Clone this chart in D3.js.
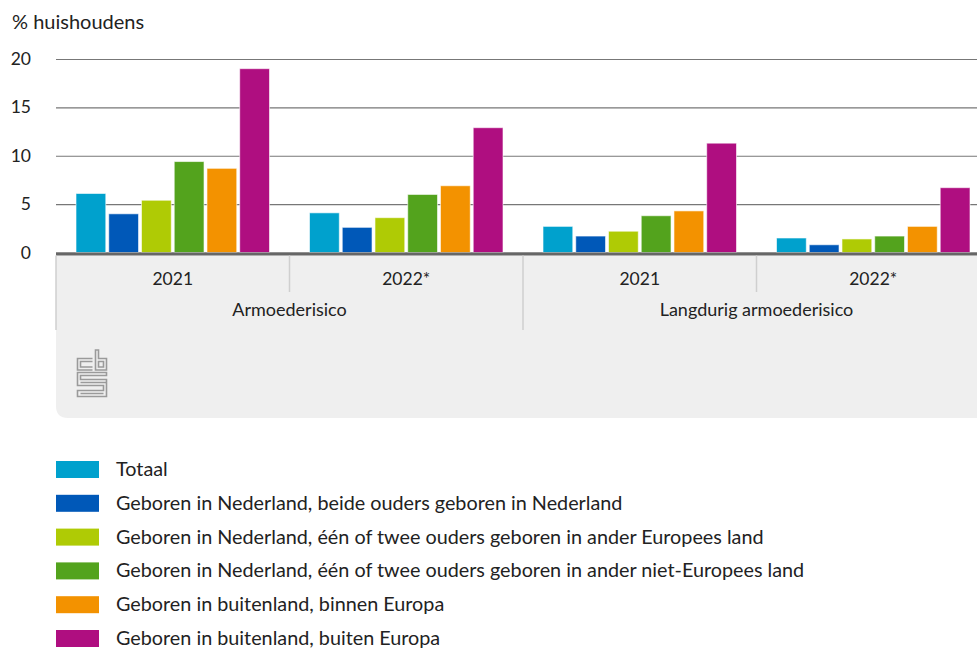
<!DOCTYPE html>
<html><head><meta charset="utf-8">
<script src="https://cdn.jsdelivr.net/npm/d3@7"></script>
<style>
html,body{margin:0;padding:0;background:#fff;overflow:hidden;}
svg{display:block;font-family:"Lato","Noto Sans",sans-serif;}
</style></head>
<body>
<script>
// ---- data ----
const groups = ["Armoederisico", "Langdurig armoederisico"];
const years = ["2021", "2022*"];
const seriesNames = [
  "Totaal",
  "Geboren in Nederland, beide ouders geboren in Nederland",
  "Geboren in Nederland, één of twee ouders geboren in ander Europees land",
  "Geboren in Nederland, één of twee ouders geboren in ander niet-Europees land",
  "Geboren in buitenland, binnen Europa",
  "Geboren in buitenland, buiten Europa"
];
const seriesColors = ["#00a1cd", "#0058b8", "#afcb05", "#53a31d", "#f39200", "#af0e80"];
// values per category: Armoede 2021, Armoede 2022*, Langdurig 2021, Langdurig 2022*
const totaal      = [6.1, 4.1, 2.7, 1.5];
const nlBeide     = [4.0, 2.6, 1.7, 0.8];
const nlEuropa    = [5.4, 3.6, 2.2, 1.4];
const nlNietEur   = [9.4, 6.0, 3.8, 1.7];
const buitenEur   = [8.7, 6.9, 4.3, 2.7];
const buitenNiet  = [19.0, 12.9, 11.3, 6.7];
const yTicks = [0, 5, 10, 15, 20];
const yTitle = "% huishoudens";

const seriesValues = [totaal, nlBeide, nlEuropa, nlNietEur, buitenEur, buitenNiet];
const cats = [];
groups.forEach(g => years.forEach(yr => cats.push(g + "|" + yr)));

const W = 977, H = 648;
const svg = d3.select("body").append("svg").attr("width", W).attr("height", H);

const pLeft = 56, pRight = 990, pTop = 59, pBase = 252.5;
const y = d3.scaleLinear().domain([0, 20]).range([pBase, pTop]);
const x0 = d3.scaleBand().domain(cats).range([pLeft, pRight]).paddingInner(0).paddingOuter(0);
const bw = x0.bandwidth();
const x1 = d3.scaleBand().domain(d3.range(seriesNames.length)).range([20, bw - 20]).paddingInner(0.09).paddingOuter(0);

// title
svg.append("text").attr("x", 12).attr("y", 29).attr("font-size", 20).attr("fill", "#222").text(yTitle);

// gridlines
const yAxis = d3.axisLeft(y).tickValues(yTicks).tickSize(-(W - pLeft)).tickFormat(d3.format("d"));
const gy = svg.append("g").attr("transform", `translate(${pLeft},0)`).call(yAxis);
gy.select(".domain").remove();
gy.selectAll(".tick line").attr("stroke", "#777").attr("stroke-width", 1.2);
gy.selectAll(".tick text").attr("x", -25).attr("font-size", 17.5).attr("fill", "#222")
  .attr("font-family", "Lato, 'Noto Sans', sans-serif");

// axis panel
const panelTop = pBase + 3, panelBottom = 418;
svg.append("path")
  .attr("d", `M${pLeft},${panelTop} H${W} V${panelBottom} H${pLeft + 12} Q${pLeft},${panelBottom} ${pLeft},${panelBottom - 12} Z`)
  .attr("fill", "#efefef");

// bars
const gBars = svg.append("g");
cats.forEach((c, ci) => {
  seriesValues.forEach((vals, si) => {
    gBars.append("rect")
      .attr("x", x0(c) + x1(si))
      .attr("width", x1.bandwidth())
      .attr("y", y(vals[ci]))
      .attr("height", y(0) - y(vals[ci]))
      .attr("fill", seriesColors[si])
      .attr("stroke", "#fff").attr("stroke-opacity", 0.6).attr("stroke-width", 1);
  });
});

// baseline
svg.append("line").attr("x1", pLeft).attr("x2", W).attr("y1", pBase + 1.5).attr("y2", pBase + 1.5)
  .attr("stroke", "#666").attr("stroke-width", 3);

// separators
const sepColor = "#cfcfcf";
cats.forEach((c, ci) => {
  const xx = x0(c);
  const isGroupStart = ci % years.length === 0;
  svg.append("line").attr("x1", xx).attr("x2", xx).attr("y1", panelTop)
    .attr("y2", isGroupStart ? 330 : 292).attr("stroke", sepColor).attr("stroke-width", 1.5);
  svg.append("text").attr("x", xx + bw / 2).attr("y", 285).attr("text-anchor", "middle")
    .attr("font-size", 17.5).attr("fill", "#222").text(years[ci % years.length]);
});
groups.forEach((g, gi) => {
  const xs = x0(cats[gi * years.length]);
  const xe = x0(cats[gi * years.length + years.length - 1]) + bw;
  svg.append("text").attr("x", (xs + xe) / 2).attr("y", 316).attr("text-anchor", "middle")
    .attr("font-size", 18).attr("fill", "#222").text(g);
});

// cbs logo (outlined glyphs)
const logo = svg.append("g").attr("fill", "none").attr("stroke", "#9a9a9a").attr("stroke-width", 1.6);
logo.append("path").attr("d", "M92.5,358.5 H77.5 V370 H92.5 M92.5,361.5 H80.5 V367 H92.5");
logo.append("path").attr("d", "M95.5,350 V370 H106.5 V358.5 H98.5 V350 Z M98.5,361.5 H103.5 V367 H98.5 Z");
logo.append("path").attr("d", "M106.5,372.5 H77.5 V385.5 H103.5 V390.5 H77.5 V396.5 H106.5 V379.5 H80.5 V375.5 H106.5 Z");
logo.append("path").attr("d", "M80.5,382.5 H106.5 M80.5,393.5 H103.5");

// legend
const leg = svg.append("g");
seriesNames.forEach((n, i) => {
  const yy = 461 + i * 33.8;
  leg.append("rect").attr("x", 56).attr("y", yy).attr("width", 43).attr("height", 17).attr("fill", seriesColors[i]);
  leg.append("text").attr("x", 116).attr("y", yy + 15).attr("font-size", 19.8).attr("fill", "#222").text(n);
});
</script>
</body></html>
